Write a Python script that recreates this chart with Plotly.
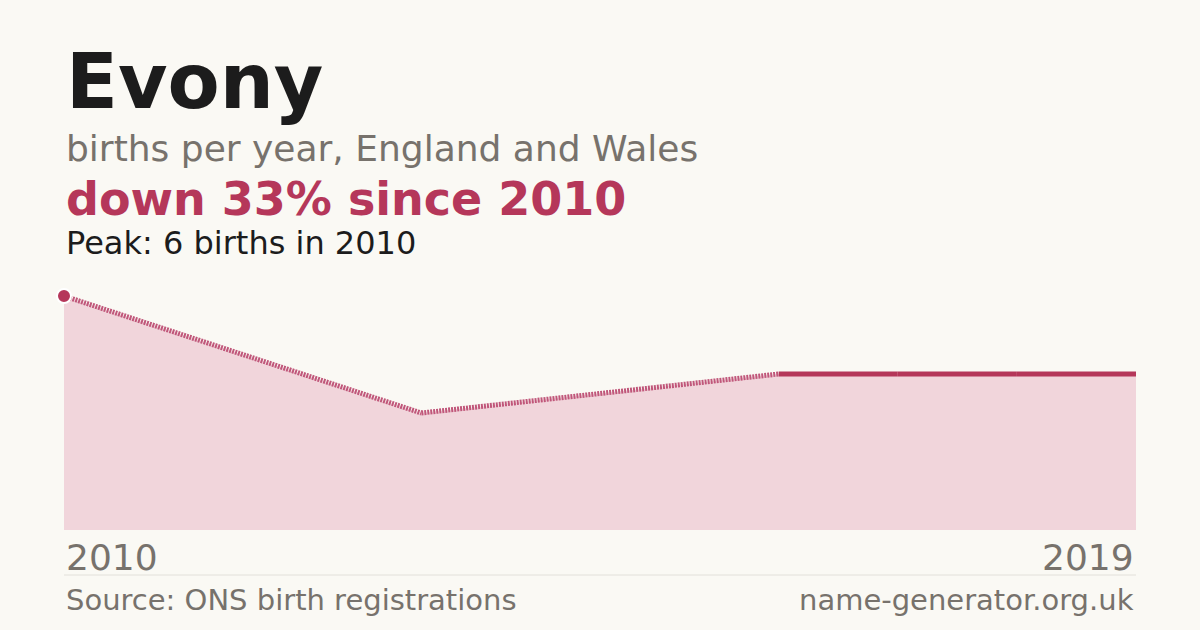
import plotly.graph_objects as go

years = [2010, 2013, 2016, 2017, 2018, 2019]
births = [6, 3, 4, 4, 4, 4]
title = "Evony"
subtitle = "births per year, England and Wales"
headline = "down 33% since 2010"
peak_text = "Peak: 6 births in 2010"
source = "Source: ONS birth registrations"
site = "name-generator.org.uk"

RED = "#b5375a"
GREY = "#77726c"
BG = "#faf9f4"
L, R, T, B = 64, 64, 296, 100
PW, PH = 1200 - L - R, 630 - T - B

fig = go.Figure()
fig.add_trace(go.Scatter(x=years, y=births, mode="lines", line=dict(width=0),
                         fill="tozeroy", fillcolor="#f1d5db", hoverinfo="skip"))
for i in range(len(years) - 1):
    gap = years[i + 1] - years[i] > 1
    fig.add_trace(go.Scatter(x=years[i:i + 2], y=births[i:i + 2], mode="lines",
                             line=dict(color="#c0577a" if gap else RED, width=5,
                                       dash="2px,1px" if gap else "solid"),
                             hoverinfo="skip"))
fig.add_trace(go.Scatter(x=[years[0]], y=[births[0]], mode="markers",
                         marker=dict(color=RED, size=14, line=dict(color="white", width=2)),
                         cliponaxis=False))

fig.update_layout(
    width=1200, height=630, paper_bgcolor=BG, plot_bgcolor=BG, showlegend=False,
    margin=dict(l=L, r=R, t=T, b=B),
    font=dict(family="DejaVu Sans"),
    xaxis=dict(range=[2010, 2019], showgrid=False, showticklabels=False, zeroline=False, fixedrange=True),
    yaxis=dict(range=[0, 6], showgrid=False, showticklabels=False, zeroline=False, fixedrange=True),
)
ann = [
    (64, 82, title, 76, "#1c1c1c", True, "left"),
    (64, 148, subtitle, 36, GREY, False, "left"),
    (64, 199, headline, 46, RED, True, "left"),
    (64, 243, peak_text, 32, "#1c1c1c", False, "left"),
    (64, 557, str(years[0]), 36, GREY, False, "left"),
    (1136, 557, str(years[-1]), 36, GREY, False, "right"),
    (64, 600, source, 29, GREY, False, "left"),
    (1136, 600, site, 29, GREY, False, "right"),
]
for x, y, t, s, c, b, al in ann:
    fig.add_annotation(x=(x - L) / PW, y=(630 - B - y) / PH, xref="paper", yref="paper",
                       showarrow=False, text=f"<b>{t}</b>" if b else t, xanchor=al,
                       yanchor="middle", font=dict(size=s, color=c))
fig.add_shape(type="line", xref="paper", yref="paper", x0=0, x1=1,
              y0=(630 - B - 575) / PH, y1=(630 - B - 575) / PH,
              line=dict(color="#e2e0da", width=1))
fig.write_html("out.html", config={"displayModeBar": False},
               post_script="document.body.style.margin='0';")
